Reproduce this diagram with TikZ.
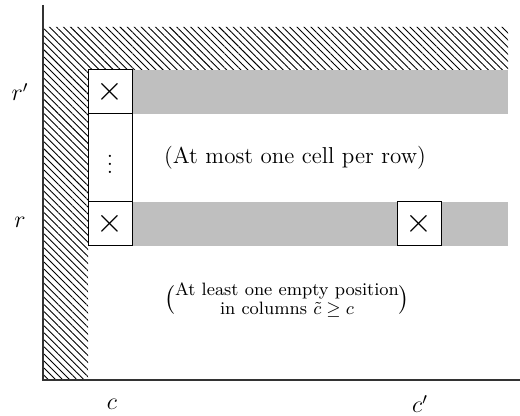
\documentclass[tikz,border=0pt]{standalone}
\usepackage{amsmath}
\usetikzlibrary{patterns.meta}
\begin{document}
\begin{tikzpicture}[x=0.5pt,y=-0.5pt,
  font=\fontsize{11.5}{14}\selectfont,
  hatch/.style={pattern={Lines[angle=-45,distance=2.5pt,line width=0.45pt]}},
  band/.style={fill=black!25},
  cell/.style={draw=black, fill=white, line width=0.5pt, inner sep=0pt,
    minimum width=22pt, minimum height=22pt},
  crossmark/.style={font=\LARGE},
  axis/.style={draw=black!80, line width=0.6pt},
  lab/.style={inner sep=0pt}]
\useasboundingbox (0,0) rectangle (520,416);
% hatched L region
\path[hatch] (43,27) -- (508,27) -- (508,70) -- (88,70) -- (88,380) -- (43,380) -- cycle;
% gray bands
\path[band] (132,70) rectangle (508,114);
\path[band] (132,202) rectangle (508,246);
% cells
\node[cell, crossmark] (x1) at (110,92) {$\times$};
\node[cell, minimum height=44pt] (dots) at (110,158) {$\vdots$};
\node[cell, crossmark] (x2) at (110,224) {$\times$};
\node[cell, crossmark] (x3) at (419,224) {$\times$};
% axes
\coordinate (o) at (43,380);
\coordinate (ytop) at (43,5);
\coordinate (xend) at (520,380);
\draw[axis] (ytop) -- (o) -- (xend);
% texts
\node[lab] (t1) at (295,158) {(At most one cell per row)};
\node[lab, font=\fontsize{12.8}{15}\selectfont] (t2) at (287,300) {$\binom{\text{At least one empty position}}{\text{in columns $\tilde c\geq c$}}$};
\node[lab] (rp) at (20,92) {$r'$};
\node[lab] (r) at (20,222) {$r$};
\node[lab] (c) at (112,404) {$c$};
\node[lab] (cp) at (420,404) {$c'$};
\end{tikzpicture}
\end{document}
